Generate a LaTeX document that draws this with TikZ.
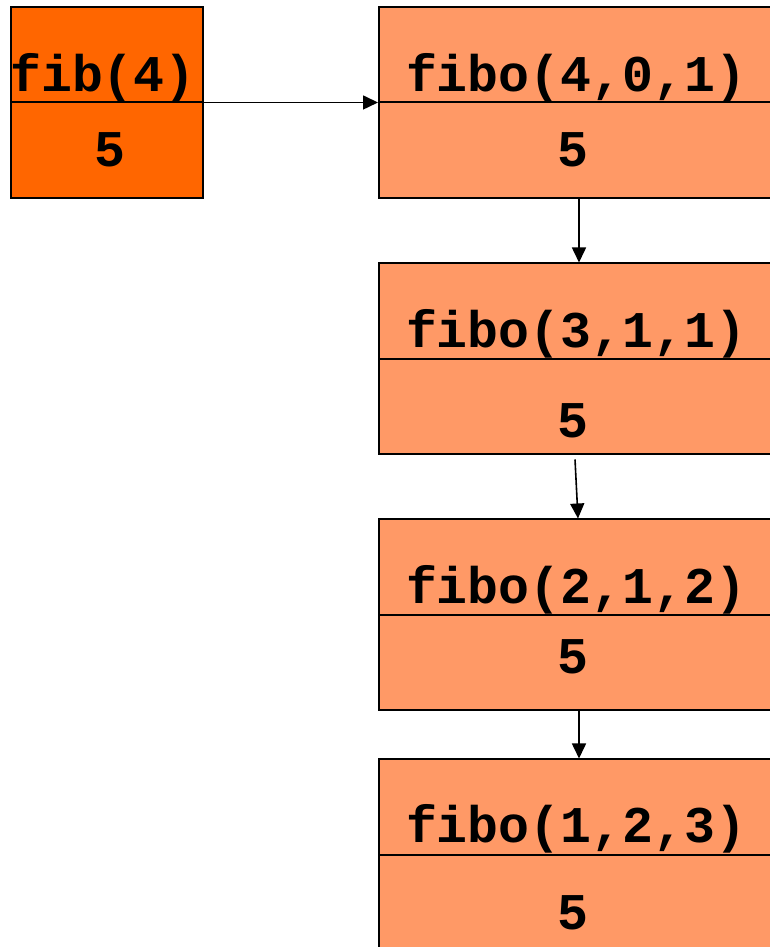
\documentclass[tikz,border=0pt]{standalone}
\usepackage{fontspec}
\setmonofont{Liberation Mono}
\usetikzlibrary{arrows.meta}
\definecolor{callfill}{HTML}{FF6600}
\definecolor{iterfill}{HTML}{FF9966}
\tikzset{
  frame/.style={draw=black, line width=2pt, inner sep=0pt,
    minimum width=400pt, minimum height=191pt, fill=iterfill},
  mainframe/.style={frame, minimum width=192pt, fill=callfill},
  divider/.style={draw=black, line width=2pt},
  lbl/.style={inner sep=0pt, anchor=base,
    font=\fontsize{51.5pt}{60pt}\selectfont\ttfamily\bfseries},
  arr/.style={draw=black, line width=1.6pt,
    -{Triangle[length=15pt,width=14pt]}}
}
\begin{document}
\begin{tikzpicture}[x=1pt,y=1pt]
\useasboundingbox (0,0) rectangle (770,947);
\clip (0,0) rectangle (770,947);
% boxes
\node[mainframe] (f) at (107,844.5) {};
\node[frame] (a) at (579,844.5) {};
\node[frame] (b) at (579,588) {};
\node[frame] (c) at (579,332) {};
\node[frame] (d) at (579,92) {};
% dividers between call and result
\draw[divider] (f.west) -- (f.east);
\draw[divider] (a.west) -- (a.east);
\draw[divider] (b.west) -- (b.east);
\draw[divider] (c.west) -- (c.east);
\draw[divider] (d.west) -- (d.east);
% calls
\node[lbl] (tf) at (103,855) {fib(4)};
\node[lbl] (ta) at (576,855) {fibo(4,0,1)};
\node[lbl] (tb) at (576,599) {fibo(3,1,1)};
\node[lbl] (tc) at (576,343) {fibo(2,1,2)};
\node[lbl] (td) at (576,104) {fibo(1,2,3)};
% results
\node[lbl] (rf) at (110,780) {5};
\node[lbl] (ra) at (573,780) {5};
\node[lbl] (rb) at (573,509) {5};
\node[lbl] (rc) at (573,273) {5};
\node[lbl] (rd) at (573,17) {5};
% connectors
\draw[arr] (f.east) -- (a.west);
\draw[arr] (a.south) -- (b.north);
\draw[arr] ([shift={(-4pt,-4pt)}]b.south) -- ([xshift=-1pt]c.north);
\draw[arr] (c.south) -- (d.north);
\end{tikzpicture}
\end{document}
